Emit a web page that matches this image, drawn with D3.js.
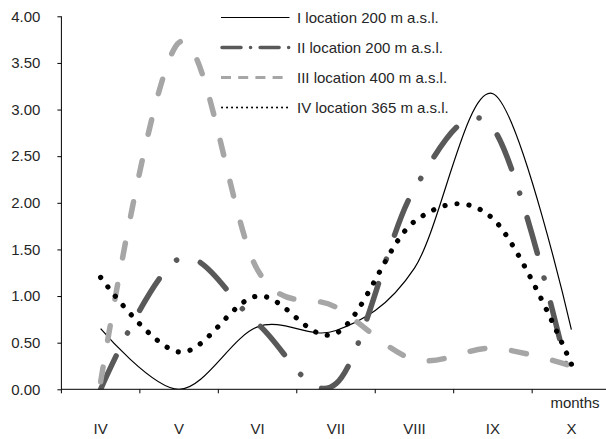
<!DOCTYPE html>
<html>
<head>
<meta charset="utf-8">
<script src="https://cdn.jsdelivr.net/npm/d3@7"></script>
<style>
  body { margin: 0; background: #fff; }
  text { font-family: "Liberation Sans", Arial, sans-serif; fill: #262626; }
</style>
</head>
<body>
<script>
// chart data
var months = ["IV", "V", "VI", "VII", "VIII", "IX", "X"];
var loc1 = [0.65, 0.00, 0.67, 0.63, 1.30, 3.17, 0.64];
var loc2 = [0.00, 1.40, 0.70, 0.06, 2.15, 2.80, 0.02];
var loc3 = [0.08, 3.72, 1.28, 0.88, 0.32, 0.44, 0.25];
var loc4 = [1.20, 0.40, 1.00, 0.60, 1.80, 1.83, 0.27];
var yTicks = [0, 0.5, 1, 1.5, 2, 2.5, 3, 3.5, 4];
var legendNames = ["I location 200 m a.s.l.", "II location 200 m a.s.l.",
                   "III location 400 m a.s.l.", "IV location 365 m a.s.l."];

var width = 606, height = 439;
var plotLeft = 61.4, plotTop = 16.3, plotBottom = 389.3;

var svg = d3.select("body").append("svg")
    .attr("width", width)
    .attr("height", height);

// scales
var x = d3.scaleBand().domain(months).range([plotLeft, plotLeft + 7 * 78.46]);
var y = d3.scaleLinear().domain([0, 4]).range([plotBottom, plotTop]);

// plot area clip (Excel cuts the curves at the axis)
svg.append("clipPath").attr("id", "plot")
  .append("rect")
    .attr("x", plotLeft).attr("y", plotTop)
    .attr("width", width - plotLeft).attr("height", plotBottom - plotTop);

// line styles per series
var series = [
  {values: loc1, color: "#000000", w: 1.2, dash: null, lw: 1.2, ldash: null, cap: "butt"},
  {values: loc2, color: "#595959", w: 5.5, dash: "37,25.5,0.1,25.5", lw: 3.5, ldash: "19,9.5,0.1,9.5", cap: "round"},
  {values: loc3, color: "#a6a6a6", w: 5.5, dash: "15,27", lw: 3.2, ldash: "10,7.2", cap: "butt"},
  {values: loc4, color: "#000000", w: 5.2, dash: "0.1,12", lw: 2, ldash: "0.1,4.9", cap: "round"}
];

var line = d3.line()
    .x(function(d, i) { return x(months[i]) + x.bandwidth() / 2; })
    .y(function(d) { return y(d); })
    .curve(d3.curveCardinal);

var plot = svg.append("g").attr("clip-path", "url(#plot)");

series.forEach(function(s) {
  plot.append("path")
      .datum(s.values)
      .attr("d", line)
      .attr("fill", "none")
      .attr("stroke", s.color)
      .attr("stroke-width", s.w)
      .attr("stroke-linecap", s.dash ? "round" : "butt")
      .attr("stroke-dasharray", s.dash);
});

// y axis
var yAxis = svg.append("g")
    .attr("transform", "translate(" + plotLeft + ",0)")
    .call(d3.axisLeft(y).tickValues(yTicks).tickFormat(d3.format(".2f"))
      .tickSize(4).tickPadding(17));
yAxis.select(".domain").attr("stroke", "#000").attr("d", "M0," + plotTop + "V" + plotBottom);
yAxis.selectAll(".tick line").attr("stroke", "#000");
yAxis.selectAll(".tick text").attr("font-size", "15px").attr("fill", "#262626")
    .attr("font-family", "Liberation Sans, Arial, sans-serif");

// x axis, ticks between the months
var xg = svg.append("g");
xg.append("line")
    .attr("x1", plotLeft).attr("x2", width)
    .attr("y1", plotBottom).attr("y2", plotBottom)
    .attr("stroke", "#000");
xg.selectAll(".xt")
    .data(months)
  .enter().append("line")
    .attr("x1", function(d) { return x(d); })
    .attr("x2", function(d) { return x(d); })
    .attr("y1", plotBottom).attr("y2", plotBottom + 4)
    .attr("stroke", "#000");
xg.selectAll(".xl")
    .data(months)
  .enter().append("text")
    .attr("x", function(d) { return x(d) + x.bandwidth() / 2; })
    .attr("y", 433.5)
    .attr("text-anchor", "middle")
    .attr("font-size", "15px")
    .text(function(d) { return d; });

svg.append("text")
    .attr("x", 575)
    .attr("y", 408)
    .attr("text-anchor", "middle")
    .attr("font-size", "15px")
    .text("months");

// legend
var legend = svg.append("g");
series.forEach(function(s, i) {
  var ly = 17.5 + i * 30;
  legend.append("line")
      .attr("x1", s.cap == "round" ? 222 : 221).attr("x2", 289.5)
      .attr("y1", ly).attr("y2", ly)
      .attr("stroke", s.color)
      .attr("stroke-width", s.lw)
      .attr("stroke-linecap", s.cap)
      .attr("stroke-dasharray", s.ldash);
  legend.append("text")
      .attr("x", 297)
      .attr("y", ly + 5.5)
      .attr("font-size", "15px")
      .text(legendNames[i]);
});
</script>
</body>
</html>
